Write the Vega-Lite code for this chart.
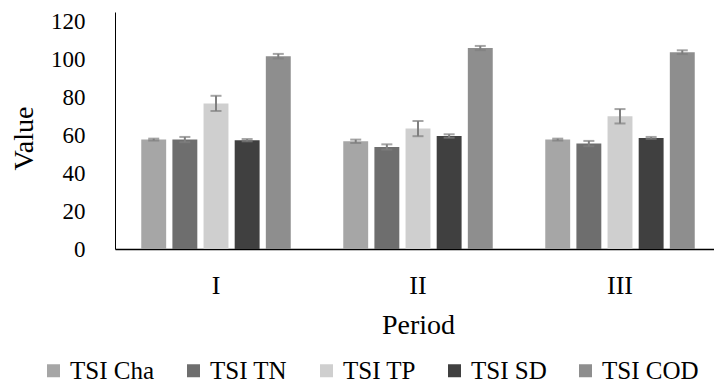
{
  "$schema": "https://vega.github.io/schema/vega-lite/v6.json",
  "autosize": "none",
  "width": 606,
  "height": 237,
  "padding": {"left": 115, "top": 12, "right": 0, "bottom": 138},
  "background": "white",
  "config": {
    "view": {"stroke": null},
    "font": "Liberation Serif",
    "axis": {"labelFont": "Liberation Serif", "titleFont": "Liberation Serif", "labelColor": "#000000", "titleColor": "#000000", "titleFontWeight": "normal", "grid": false, "labelOverlap": false},
    "legend": {"labelFont": "Liberation Serif"}
  },
  "data": {
    "values": [
      {"period": "I", "series": "TSI Cha", "value": 57.7, "lo": 57.2, "hi": 58.2},
      {"period": "I", "series": "TSI TN", "value": 57.7, "lo": 56.3, "hi": 59.1},
      {"period": "I", "series": "TSI TP", "value": 76.7, "lo": 72.8, "hi": 80.8},
      {"period": "I", "series": "TSI SD", "value": 57.4, "lo": 56.8, "hi": 58.0},
      {"period": "I", "series": "TSI COD", "value": 101.7, "lo": 100.5, "hi": 102.9},
      {"period": "II", "series": "TSI Cha", "value": 56.8, "lo": 55.9, "hi": 57.7},
      {"period": "II", "series": "TSI TN", "value": 53.8, "lo": 52.4, "hi": 55.2},
      {"period": "II", "series": "TSI TP", "value": 63.5, "lo": 59.5, "hi": 67.5},
      {"period": "II", "series": "TSI SD", "value": 59.6, "lo": 58.7, "hi": 60.5},
      {"period": "II", "series": "TSI COD", "value": 106.0, "lo": 104.9, "hi": 107.1},
      {"period": "III", "series": "TSI Cha", "value": 57.7, "lo": 57.2, "hi": 58.2},
      {"period": "III", "series": "TSI TN", "value": 55.6, "lo": 54.2, "hi": 57.0},
      {"period": "III", "series": "TSI TP", "value": 70.0, "lo": 66.2, "hi": 73.8},
      {"period": "III", "series": "TSI SD", "value": 58.6, "lo": 58.1, "hi": 59.1},
      {"period": "III", "series": "TSI COD", "value": 103.8, "lo": 102.8, "hi": 104.8}
    ]
  },
  "encoding": {
    "x": {
      "field": "period", "type": "nominal", "sort": ["I", "II", "III"],
      "scale": {"paddingInner": 0.26, "paddingOuter": 0.13},
      "axis": {
        "title": "Period", "labelAngle": 0, "labelFontSize": 26, "titleFontSize": 28,
        "ticks": false, "tickSize": 0, "labelPadding": 23, "titlePadding": 13,
        "domainColor": "#000000", "domainWidth": 1.5, "labelOverlap": false
      }
    },
    "xOffset": {
      "field": "series", "type": "nominal",
      "sort": ["TSI Cha", "TSI TN", "TSI TP", "TSI SD", "TSI COD"],
      "scale": {"paddingInner": 0.2, "paddingOuter": 0}
    }
  },
  "resolve": {"axis": {"y": "independent"}},
  "layer": [
    {
      "mark": {"type": "bar"},
      "encoding": {
        "y": {
          "field": "value", "type": "quantitative",
          "scale": {"domain": [0, 125], "nice": false},
          "axis": {
            "title": "Value", "values": [0, 20, 40, 60, 80, 100, 120],
            "labelFontSize": 23, "titleFontSize": 28, "ticks": false, "tickSize": 0,
            "labelPadding": 30, "titlePadding": 12, "titleY": 126,
            "domainColor": "#000000", "domainWidth": 1, "labelOverlap": false
          }
        },
        "color": {
          "field": "series", "type": "nominal",
          "sort": ["TSI Cha", "TSI TN", "TSI TP", "TSI SD", "TSI COD"],
          "scale": {
            "domain": ["TSI Cha", "TSI TN", "TSI TP", "TSI SD", "TSI COD"],
            "range": ["#a6a6a6", "#6e6e6e", "#cfcfcf", "#404040", "#8e8e8e"]
          },
          "legend": {
            "title": null, "orient": "none", "direction": "horizontal", "columns": 5,
            "legendX": -74, "legendY": 346,
            "symbolType": "square", "symbolSize": 169, "symbolStrokeWidth": 0,
            "labelFontSize": 25, "labelOffset": 4, "columnPadding": 26,
            "labelColor": "#000000"
          }
        }
      }
    },
    {
      "mark": {"type": "rule", "color": "#7f7f7f", "strokeWidth": 2},
      "encoding": {
        "y": {"field": "lo", "type": "quantitative", "axis": null},
        "y2": {"field": "hi"}
      }
    },
    {
      "mark": {"type": "tick", "color": "#7f7f7f", "thickness": 2, "size": 11},
      "encoding": {"y": {"field": "lo", "type": "quantitative", "axis": null}}
    },
    {
      "mark": {"type": "tick", "color": "#7f7f7f", "thickness": 2, "size": 11},
      "encoding": {"y": {"field": "hi", "type": "quantitative", "axis": null}}
    }
  ]
}
